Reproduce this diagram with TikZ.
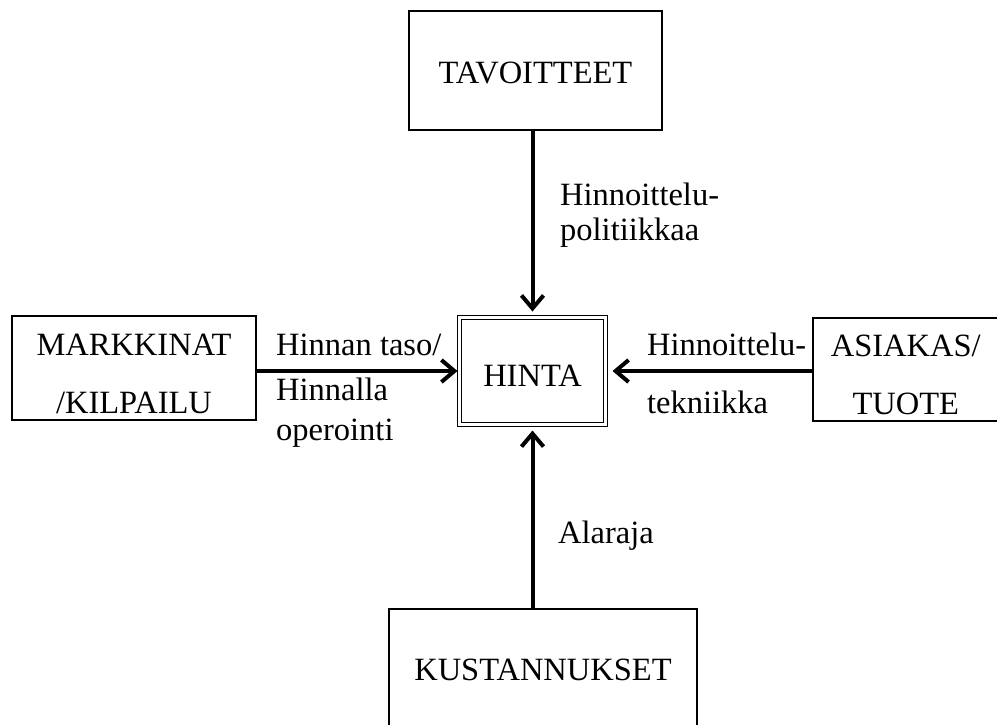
\documentclass[tikz,border=0pt]{standalone}
\usepackage{fontspec}
\setmainfont{Liberation Serif}
\usetikzlibrary{arrows.meta}
\begin{document}
\begin{tikzpicture}[x=1pt,y=-1pt,
  box/.style={draw, line width=1.3pt, inner sep=0pt, outer sep=0pt, align=center,
    font=\fontsize{32.5}{58}\selectfont, anchor=north west},
  lbl/.style={inner sep=0pt, anchor=base west, align=left, font=\fontsize{32.5}{35}\selectfont},
  arr/.style={line width=4pt, -{Straight Barb[length=13pt,width=22pt]}}]
\useasboundingbox (0,0) rectangle (997,724);
\clip (0,0) rectangle (997,724);
% boxes (node baseline = last text line)
\node[box, minimum width=253pt, text height=72pt, text depth=47pt] (tav) at (409,11) {TAVOITTEET};
\node[box, minimum width=244pt, text height=97pt, text depth=7pt] (mark) at (12,316) {MARKKINAT\\/KILPAILU};
\node[box, minimum width=185.5pt, text height=96pt, text depth=7pt] (asi) at (813,318) {ASIAKAS/\\TUOTE};
\node[box, minimum width=308pt, text height=71pt, text depth=60pt] (kust) at (389,609) {KUSTANNUKSET};
\node[draw, line width=1pt, double, double distance=3pt, inner sep=0pt, outer sep=0pt,
  minimum width=146pt, text height=68.5pt, text depth=38.5pt,
  font=\fontsize{32.5}{58}\selectfont] (hinta) at (532.5,371) {HINTA};
% connectors
\draw[arr, shorten >=6pt] (hinta.north |- tav.south) -- (hinta.north);
\draw[arr, shorten >=6pt] (hinta.south |- kust.north) -- (hinta.south);
\draw[arr, shorten >=2pt] (mark.east |- hinta.west) -- (hinta.west);
\draw[arr, shorten >=7pt] (asi.west |- hinta.east) -- (hinta.east);
% labels (node baseline = last text line)
\node[lbl] (ltop) at (560,240) {Hinnoittelu-\\politiikkaa};
\node[lbl] (lleft1) at (276,355) {Hinnan taso/};
\node[lbl, font=\fontsize{32.5}{40}\selectfont] (lleft2) at (276,440) {Hinnalla\\operointi};
\node[lbl] (lright1) at (647,355) {Hinnoittelu-};
\node[lbl] (lright2) at (647,413) {tekniikka};
\node[lbl] (lbot) at (558,543) {Alaraja};
\end{tikzpicture}
\end{document}
